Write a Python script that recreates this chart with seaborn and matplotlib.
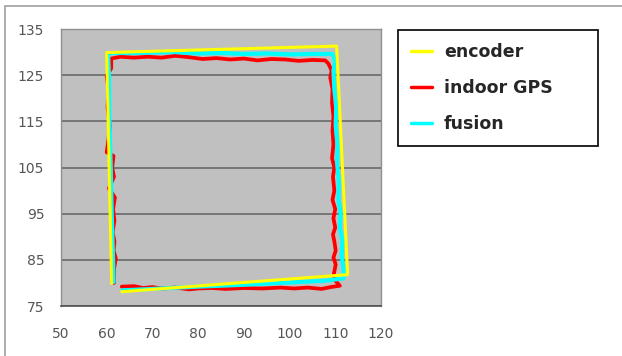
import matplotlib
matplotlib.use('Agg')
import matplotlib.pyplot as plt
import seaborn as sns
import pandas as pd
from matplotlib.lines import Line2D
from matplotlib.patches import Rectangle

# encoder trajectory (yellow)
enc_x = [63.3, 112.7, 110.3, 60.0, 61.1]
enc_y = [78.1, 81.8, 131.3, 129.9, 79.9]

# indoor GPS trajectory (red)
gps_x = [63.3, 66, 68, 70, 72, 75, 78, 80, 83, 86, 90, 94, 98, 101, 104, 107, 109, 111,
         110.0, 109.7, 110.1, 109.6, 110.1, 109.8, 109.5, 110.0, 109.6, 110.0, 109.4, 109.8,
         109.5, 109.8, 109.3, 109.6, 109.4, 109.6, 109.3, 109.4, 108.9, 109.2, 108.5, 107.8,
         105, 102, 99, 96, 93, 90, 87, 84, 81, 78, 75, 72, 69, 66, 63, 61,
         61.0, 60.0, 60.4, 60.2, 60.7, 60.4, 60.0, 61.5, 61.2, 61.6, 60.5, 61.8, 61.4, 61.7,
         61.3, 61.7, 61.5, 62.0, 61.6, 61.6]
gps_y = [79.2, 79.3, 78.9, 79.1, 78.8, 79.0, 78.6, 78.8, 78.9, 78.7, 78.9, 78.8, 79.0, 78.8, 79.0, 78.7, 79.1, 79.4,
         80.5, 82, 84, 85.5, 87, 89, 90.5, 92, 94, 96, 98, 100,
         103, 105, 107, 110, 113, 116, 119, 122, 124.5, 126, 127.5, 128.2,
         128.3, 128.1, 128.4, 128.5, 128.2, 128.6, 128.4, 128.7, 128.5, 128.9, 129.2, 128.8, 129.0, 128.8, 129.0, 128.6,
         126.5, 124.8, 122, 118, 114, 111, 108.3, 107.5, 105, 103, 100.5, 98.5, 96, 93.5,
         91, 89, 87, 85.3, 83, 80]

# fusion trajectory (cyan)
fus_x = [63.5, 70, 80, 90, 100, 108, 111.8,
         111.8, 111.4, 111.6, 111.0, 111.2, 110.7, 110.8, 110.4, 110.5, 110.1, 110.2, 109.8, 109.6, 110.0, 109.4,
         105, 100, 95, 90, 85, 80, 75, 70, 65, 60.3,
         60.5, 60.6, 60.9, 61.1, 61.4, 61.5]
fus_y = [78.4, 78.7, 79.2, 79.6, 80.1, 80.5, 81.0,
         83, 86, 89, 92, 95, 98, 102, 106, 110, 114, 118, 122, 126, 128, 129.6,
         129.6, 129.5, 129.7, 129.6, 129.8, 129.7, 130.0, 129.9, 129.8, 129.8,
         125, 115, 105, 95, 85, 80.2]

series_names = ['encoder', 'indoor GPS', 'fusion']
series_colors = ['#FFFF00', '#FF0000', '#00FFFF']

enc = pd.DataFrame({'x': enc_x, 'y': enc_y})
gps = pd.DataFrame({'x': gps_x, 'y': gps_y})
fus = pd.DataFrame({'x': fus_x, 'y': fus_y})

sns.set_style('white')
plt.rcParams['font.family'] = ['DejaVu Sans']

fig = plt.figure(figsize=(6.22, 3.56), dpi=100)
ax = fig.add_axes([0.098, 0.1404, 0.5145, 0.7781])
ax.set_facecolor('#C0C0C0')

# draw order: GPS underneath, then fusion, encoder on top
sns.lineplot(data=gps, x='x', y='y', sort=False, estimator=None, color=series_colors[1],
             linewidth=2.7, ax=ax)
sns.lineplot(data=fus, x='x', y='y', sort=False, estimator=None, color=series_colors[2],
             linewidth=3.0, ax=ax)
sns.lineplot(data=enc, x='x', y='y', sort=False, estimator=None, color=series_colors[0],
             linewidth=2.2, ax=ax)

ax.set_xlim(50, 120)
ax.set_ylim(75, 135)
ax.set_xticks(range(50, 121, 10))
ax.set_yticks(range(75, 136, 10))
ax.set_xlabel('')
ax.set_ylabel('')
ax.yaxis.grid(True, color='#707070', linewidth=1.3)
ax.xaxis.grid(False)
ax.set_axisbelow(True)

for side in ['left', 'top', 'right']:
    ax.spines[side].set_color('#909090')
    ax.spines[side].set_linewidth(1.0)
ax.spines['bottom'].set_color('#505050')
ax.spines['bottom'].set_linewidth(1.2)

ax.tick_params(axis='x', direction='in', length=4, width=1, color='#404040',
               labelsize=10, labelcolor='#555555', pad=15)
ax.tick_params(axis='y', length=0, labelsize=10, labelcolor='#555555', pad=12)

handles = [Line2D([0], [0], color=c, linewidth=2.5) for c in series_colors]
leg = fig.legend(handles, series_names, loc='upper left',
                 bbox_to_anchor=(0.64, 0.916, 0.321, 0.0), mode='expand',
                 frameon=True, fancybox=False, framealpha=1, edgecolor='black',
                 prop={'weight': 'bold', 'size': 12.5}, handlelength=1.2,
                 handletextpad=0.7, labelspacing=1.05, borderpad=0.75, borderaxespad=0)
leg.get_frame().set_linewidth(1.2)

# thin figure border (top and left edges visible)
fig.patches.append(Rectangle((0.008, -0.5), 2, 1.483, transform=fig.transFigure,
                             fill=False, edgecolor='#A0A0A0', linewidth=1.2))

fig.savefig('out.png', dpi=100)
